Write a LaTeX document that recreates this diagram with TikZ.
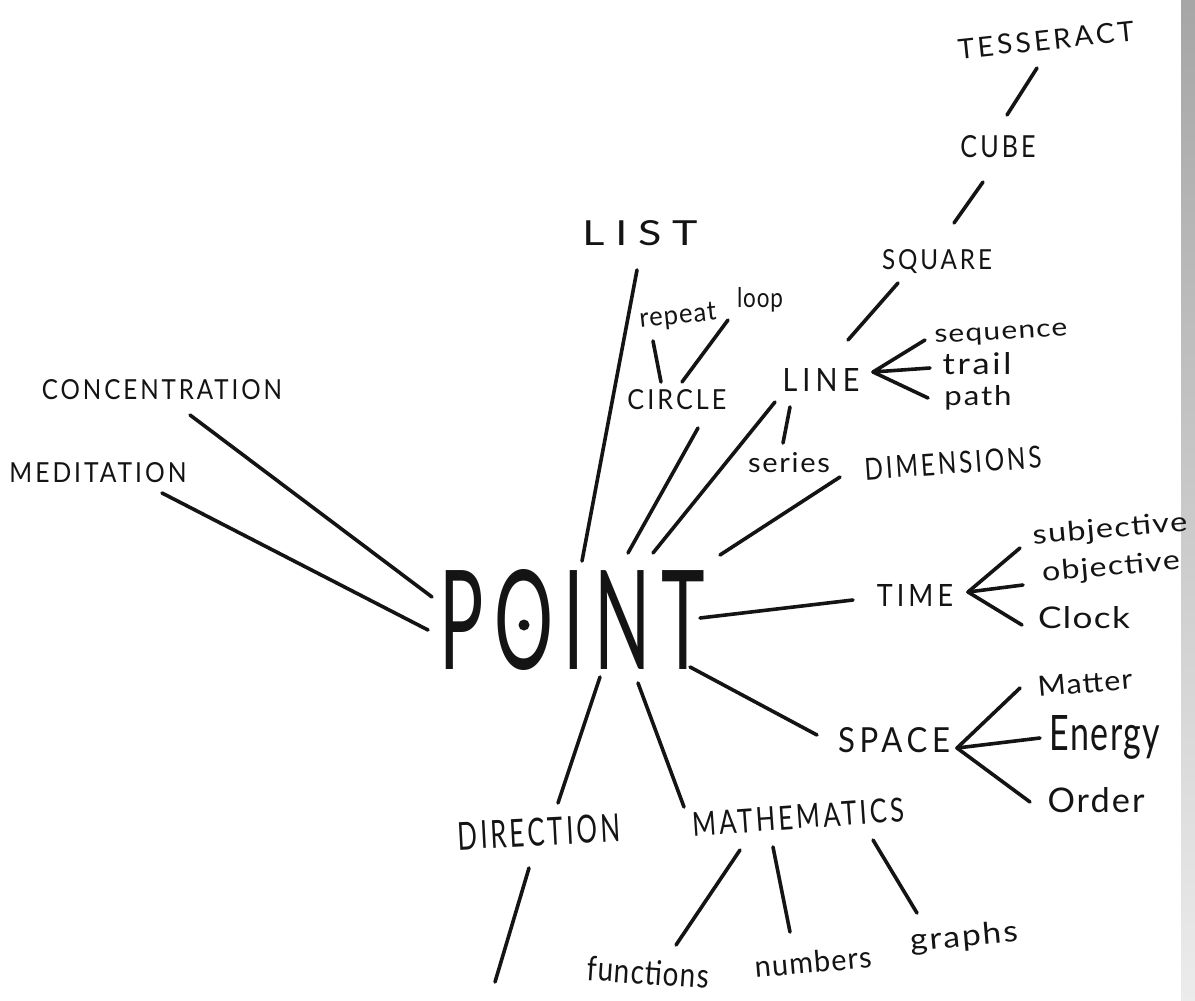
\documentclass[tikz,border=0pt]{standalone}
\usepackage{graphicx}
\usepackage{fontspec}
\setmainfont{Lato}
\newcommand\hw[4][12]{\resizebox{#2pt}{#3pt}{\addfontfeature{LetterSpace=#1}#4}}
\begin{document}
\begin{tikzpicture}[x=1pt,y=-1pt,
  br/.style={line width=3.6pt, line cap=round, line join=round, black!92},
  lbl/.style={inner sep=0pt, outer sep=0pt, text=black!92}]
\useasboundingbox (0,0) rectangle (1195,1001);
\fill[white] (0,0) rectangle (1195,1001);
\shade[top color=gray!70, bottom color=gray!15] (1181,0) rectangle (1195,1001);

% nodes
\node[lbl, rotate=6] (tess) at (1046,40) {\hw{177}{20}{TESSERACT}};
\node[lbl] (cube) at (998,147) {\hw{75}{22}{CUBE}};
\node[lbl] (square) at (937,262) {\hw{110}{20}{SQUARE}};
\node[lbl] (list) at (640,233) {\hw[25]{115}{25}{LIST}};
\node[lbl, rotate=6] (repeat) at (678,317) {\hw[4]{77}{18}{repeat}};
\node[lbl] (loop) at (760,300) {\hw[4]{46}{20}{loop}};
\node[lbl] (circle) at (677,400) {\hw{99}{20}{CIRCLE}};
\node[lbl] (line) at (821,380) {\hw[18]{77}{23}{LINE}};
\node[lbl, rotate=3] (seq) at (1001,335) {\hw[4]{133}{13}{sequence}};
\node[lbl] (trail) at (977,364) {\hw[8]{69}{22}{trail}};
\node[lbl] (path) at (978,398) {\hw[6]{67}{20}{path}};
\node[lbl] (series) at (789,463) {\hw[6]{82}{20}{series}};
\node[lbl, rotate=4] (dim) at (953,463) {\hw{177}{22}{DIMENSIONS}};
\node[lbl] (conc) at (162,390) {\hw{240}{20}{CONCENTRATION}};
\node[lbl] (medit) at (98,473) {\hw{177}{20}{MEDITATION}};
\node[lbl] (point) at (572,620) {\hw[14]{265}{100}{POINT}};
\node[lbl] (time) at (915,595) {\hw[15]{76}{22}{TIME}};
\node[lbl, rotate=5] (subj) at (1110,530) {\hw[4]{155}{20}{subjective}};
\node[lbl, rotate=5] (obj) at (1111,568) {\hw[4]{138}{20}{objective}};
\node[lbl] (clock) at (1084,618) {\hw[4]{92}{22}{Clock}};
\node[lbl] (space) at (894,740) {\hw[15]{112}{25}{SPACE}};
\node[lbl, rotate=5] (matter) at (1085,683) {\hw[4]{95}{20}{Matter}};
\node[lbl] (energy) at (1105,737) {\hw[4]{110}{35}{Energy}};
\node[lbl] (order) at (1096,800) {\hw[6]{97}{25}{Order}};
\node[lbl, rotate=3] (dir) at (539,832) {\hw{162}{28}{DIRECTION}};
\node[lbl, rotate=4] (math) at (798,817) {\hw{212}{24}{MATHEMATICS}};
\node[lbl, rotate=-4] (func) at (648,972) {\hw[4]{122}{25}{functions}};
\node[lbl, rotate=5] (numb) at (813,962) {\hw[4]{117}{22}{numbers}};
\node[lbl, rotate=5] (graphs) at (964,938) {\hw[6]{108}{22}{graphs}};
\coordinate (dirend) at (495,982);

% dot inside the O
\fill[black!92] ([shift={(-48,5)}]point.center) circle (5.5);

% connectors
\draw[br] ([shift={(-9,28)}]tess.center) -- ([shift={(9,-32)}]cube.center);
\draw[br] ([shift={(-15,35)}]cube.center) -- ([shift={(17,-39)}]square.center);
\draw[br] ([shift={(-39,21)}]square.center) -- ([shift={(27,-40)}]line.center);
\draw[br] ([shift={(-76,5)}]seq.center) -- ([shift={(52,-8)}]line.center) -- ([shift={(-47,4)}]trail.center);
\draw[br] ([shift={(52,-8)}]line.center) -- ([shift={(-50,0)}]path.center);
\draw[br] ([shift={(-31,27)}]line.center) -- ([shift={(-6,-20)}]series.center);
\draw[br] ([shift={(-46,22)}]line.center) -- ([shift={(81,-67)}]point.center);
\draw[br] ([shift={(-3,37)}]list.center) -- ([shift={(10,-59)}]point.center);
\draw[br] ([shift={(-25,24)}]repeat.center) -- ([shift={(-16,-18)}]circle.center);
\draw[br] ([shift={(-32,20)}]loop.center) -- ([shift={(5,-18)}]circle.center);
\draw[br] ([shift={(21,28)}]circle.center) -- ([shift={(56,-67)}]point.center);
\draw[br] ([shift={(-113,14)}]dim.center) -- ([shift={(148,-65)}]point.center);
\draw[br] ([shift={(28,25)}]conc.center) -- ([shift={(-140,-23)}]point.center);
\draw[br] ([shift={(64,20)}]medit.center) -- ([shift={(-144,10)}]point.center);
\draw[br] ([shift={(128,-2)}]point.center) -- ([shift={(-62,5)}]time.center);
\draw[br] ([shift={(-90,18)}]subj.center) -- ([shift={(53,-3)}]time.center) -- ([shift={(-62,7)}]clock.center);
\draw[br] ([shift={(53,-3)}]time.center) -- ([shift={(-88,17)}]obj.center);
\draw[br] ([shift={(118,47)}]point.center) -- ([shift={(-77,-5)}]space.center);
\draw[br] ([shift={(-65,5)}]matter.center) -- ([shift={(63,8)}]space.center) -- ([shift={(-66,2)}]order.center);
\draw[br] ([shift={(63,8)}]space.center) -- ([shift={(-65,1)}]energy.center);
\draw[br] ([shift={(28,57)}]point.center) -- ([shift={(19,-29)}]dir.center);
\draw[br] ([shift={(66,63)}]point.center) -- ([shift={(-114,-10)}]math.center);
\draw[br] ([shift={(-10,36)}]dir.center) -- (dirend);
\draw[br] ([shift={(-58,33)}]math.center) -- ([shift={(28,-27)}]func.center);
\draw[br] ([shift={(-25,30)}]math.center) -- ([shift={(-23,-30)}]numb.center);
\draw[br] ([shift={(75,23)}]math.center) -- ([shift={(-47,-25)}]graphs.center);
\end{tikzpicture}
\end{document}
